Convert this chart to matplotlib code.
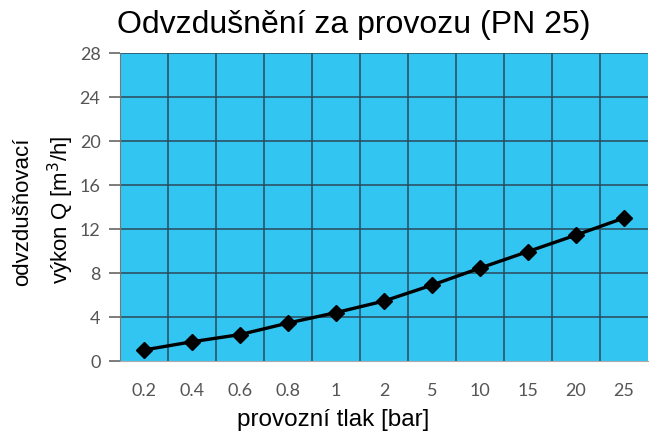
import numpy as np
import matplotlib.pyplot as plt

pressure = ["0.2", "0.4", "0.6", "0.8", "1", "2", "5", "10", "15", "20", "25"]
flow = [1.0, 1.75, 2.4, 3.45, 4.4, 5.45, 6.9, 8.45, 9.95, 11.45, 13.0]
y_ticks = [0, 4, 8, 12, 16, 20, 24, 28]

fig = plt.figure(figsize=(6.49, 4.37), dpi=100)
ax = fig.add_axes([120 / 649, 76 / 437, 528 / 649, 308 / 437])
ax.set_facecolor("#33c5f2")

x = np.arange(len(pressure))
ax.set_xlim(-0.5, len(pressure) - 0.5)
ax.set_ylim(0, 28)

# grid: vertical lines between categories, horizontal at y ticks
for b in np.arange(0.5, len(pressure) - 0.5, 1.0):
    ax.axvline(b, color="#2a4a5a", lw=1.3, alpha=0.85, zorder=1)
for t in y_ticks[1:]:
    ax.axhline(t, color="#2a4a5a", lw=1.3, alpha=0.85, zorder=1)

ax.plot(x, flow, color="black", lw=2.4, marker="D", markersize=8, zorder=3)

ax.set_xticks(x)
ax.set_xticklabels(pressure)
ax.set_yticks(y_ticks)
ax.tick_params(axis="x", length=0, pad=16, labelsize=13, labelcolor="#555555")
ax.tick_params(axis="y", length=8, width=1.2, color="#666666", pad=6,
               labelsize=13, labelcolor="#555555")
for lab in ax.get_xticklabels() + ax.get_yticklabels():
    lab.set_family("Lato")

for s in ["top", "right"]:
    ax.spines[s].set_visible(False)
ax.spines["left"].set_color("#777777")
ax.spines["bottom"].set_color("#aaaaaa")

fig.text(354 / 649, 1 - 25 / 437, "Odvzdušnění za provozu (PN 25)",
         ha="center", va="center", fontsize=23, family="Liberation Sans")
fig.text(23 / 649, 1 - 212 / 437, "odvzdušňovací", rotation=90,
         ha="center", va="center", fontsize=16, family="Liberation Sans")
fig.text(61 / 649, 1 - 210 / 437, "výkon Q [m$^3$/h]", rotation=90,
         ha="center", va="center", fontsize=16, family="Liberation Sans")
fig.text(333 / 649, 1 - 420 / 437, "provozní tlak [bar]",
         ha="center", va="center", fontsize=17.5, family="Liberation Sans")

fig.savefig("out.png", dpi=100)
